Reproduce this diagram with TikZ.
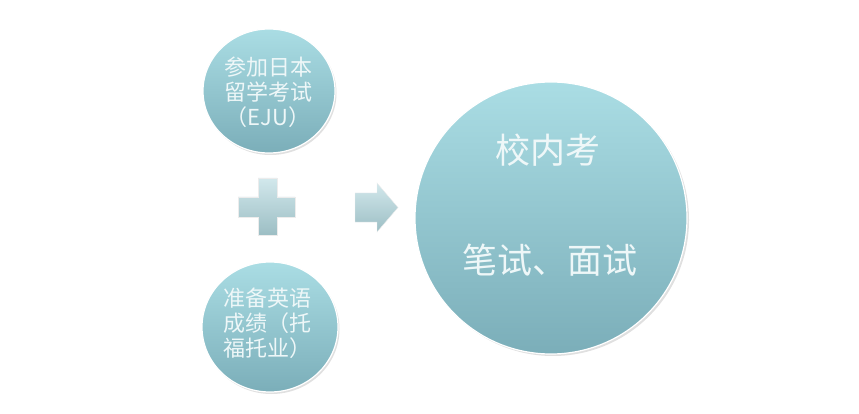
\documentclass[tikz,border=0pt]{standalone}
\usepackage{fontspec}
\setmainfont{Noto Sans CJK SC}
\usetikzlibrary{shapes.geometric}
\definecolor{cTop}{HTML}{AADDE4}
\definecolor{cBot}{HTML}{7BAEB9}
\definecolor{txt}{HTML}{EEF7F8}
\definecolor{sTop}{HTML}{D2E8EC}
\definecolor{sBot}{HTML}{9CBEC4}
\begin{document}
\begin{tikzpicture}[x=1pt,y=-1pt,
  disc/.style={ellipse, inner sep=0pt, top color=cTop, bottom color=cBot, draw=white, line width=1.2pt},
  shadowdisc/.style={fill=black!35, opacity=0.35},
  smalltext/.style={text=txt, align=center, font=\fontsize{22}{25}\selectfont},
  bigtext/.style={text=txt, font=\fontsize{35}{40}\selectfont},
  symbolshape/.style={top color=sTop, bottom color=sBot, draw=white!85!gray, line width=0.4pt}]
\useasboundingbox (0,0) rectangle (859,414);
% shadows
\fill[shadowdisc] (270.5,93) ellipse [x radius=66pt, y radius=62pt];
\fill[shadowdisc] (271.5,329) ellipse [x radius=68pt, y radius=65pt];
\fill[shadowdisc] (553,220) circle [radius=136pt];
% discs
\node[disc, minimum width=132pt, minimum height=124pt] (eju) at (269,91) {};
\node[disc, minimum width=136pt, minimum height=130pt] (eng) at (270,327) {};
\node[disc, minimum width=272pt, minimum height=272pt] (school) at (551,218) {};
% texts
\node[smalltext] (ejutext) at (268,92) {参加日本\\留学考试\\（EJU）};
\node[smalltext] (engtext) at (267,323) {准备英语\\成绩（托\\福托业）};
\node[bigtext] (t1) at (548,150) {校内考};
\node[bigtext] (t2) at (550,260) {笔试、面试};
% plus sign
\shade[symbolshape] (238,197) -- (258,197) -- (258,178) -- (277,178) -- (277,197) -- (295,197) -- (295,217) -- (277,217) -- (277,235) -- (258,235) -- (258,217) -- (238,217) -- cycle;
% arrow
\shade[symbolshape] (355,193) -- (377,193) -- (377,183) -- (398,207.5) -- (377,232) -- (377,222) -- (355,222) -- cycle;
\end{tikzpicture}
\end{document}
